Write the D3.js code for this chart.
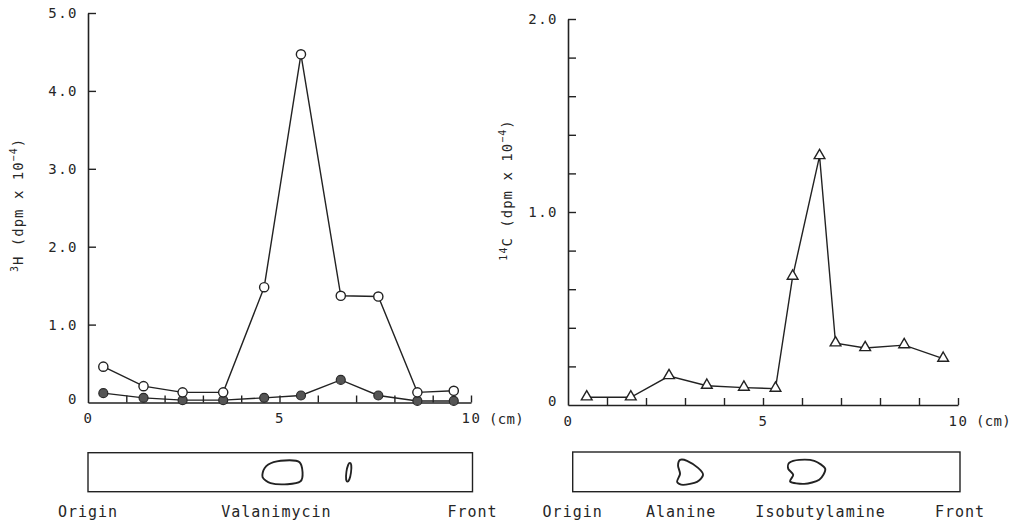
<!DOCTYPE html>
<html>
<head>
<meta charset="utf-8">
<script src="https://cdn.jsdelivr.net/npm/d3@7"></script>
<style>
  html, body { margin: 0; padding: 0; background: #fff; }
  svg { display: block; }
  text { font-family: "DejaVu Sans Mono", monospace; fill: #262626; }
</style>
</head>
<body>
<svg id="chart" width="1016" height="522"></svg>
<script>
// ---------- DATA ----------
// Left panel: 3H radioactivity vs distance (cm)
const leftX      = [0.4, 1.45, 2.47, 3.53, 4.6, 5.56, 6.6, 7.58, 8.6, 9.55];
const leftOpen   = [0.46, 0.21, 0.13, 0.13, 1.48, 4.47, 1.37, 1.36, 0.13, 0.15];
const leftFilled = [0.12, 0.06, 0.03, 0.03, 0.06, 0.09, 0.29, 0.09, 0.02, 0.02];
const leftYTicks = [0, 1, 2, 3, 4, 5];
const leftYLabels = ["0", "1.0", "2.0", "3.0", "4.0", "5.0"];

// Right panel: 14C radioactivity vs distance (cm)
const rightX   = [0.48, 1.61, 2.59, 3.56, 4.51, 5.32, 5.76, 6.45, 6.86, 7.62, 8.62, 9.62];
const rightTri = [0.04, 0.04, 0.15, 0.10, 0.09, 0.085, 0.665, 1.29, 0.32, 0.295, 0.31, 0.24];
const rightYTicks = [0, 0.2, 0.4, 0.6, 0.8, 1.0, 1.2, 1.4, 1.6, 1.8, 2.0];
const rightYLabels = { "0": "0", "1": "1.0", "2": "2.0" };

const xTicks = [0,1,2,3,4,5,6,7,8,9,10];
const xLabels = { "0": "0", "5": "5", "10": "10" };

// Chromatogram strips: spot positions in cm
const leftSpots  = [{name: "blob", cm: 5.06}, {name: "streak", cm: 6.78}];
const rightSpots = [{name: "dee", cm: 3.03}, {name: "kidney", cm: 6.03}];
const leftStripLabels  = [{t: "Origin", cm: 0}, {t: "Valanimycin", cm: 4.9}, {t: "Front", cm: 10}];
const rightStripLabels = [{t: "Origin", cm: 0}, {t: "Alanine", cm: 2.8}, {t: "Isobutylamine", cm: 6.4}, {t: "Front", cm: 10}];

// ---------- DRAWING ----------
const svg = d3.select("#chart");
const ink = "#222";

function panel(opts) {
  const g = svg.append("g");
  const x = d3.scaleLinear().domain([0, 10]).range([opts.x0, opts.x1]);
  const y = d3.scaleLinear().domain([0, opts.yMax]).range([opts.y0, opts.y1]);

  const xa = g.append("g").attr("transform", `translate(0,${opts.y0})`)
    .call(d3.axisBottom(x).tickValues(xTicks).tickSize(-7).tickSizeOuter(0).tickPadding(8)
      .tickFormat(d => xLabels[d] !== undefined ? xLabels[d] : ""));
  const ya = g.append("g").attr("transform", `translate(${opts.x0},0)`)
    .call(d3.axisLeft(y).tickValues(opts.yTicks).tickSize(-8).tickSizeOuter(0).tickPadding(10)
      .tickFormat(opts.yFmt));
  [xa, ya].forEach(a => {
    a.selectAll("path.domain").attr("stroke", ink).attr("stroke-width", 1.6);
    a.selectAll(".tick line").attr("stroke", ink).attr("stroke-width", 1.4);
    a.selectAll(".tick text").attr("fill", "#262626").style("font-size", "14px")
      .style("font-family", "'DejaVu Sans Mono', monospace").style("letter-spacing", "1.5px");
  });
  xa.selectAll(".tick text").attr("dy", "0.9em");
  ya.selectAll(".tick").filter(d => d === 0).select("text").attr("dy", "0.05em");
  xa.selectAll(".tick").filter(d => d === 0).select("line").remove();
  ya.selectAll(".tick").filter(d => d === 0).select("line").remove();

  g.append("text").attr("x", x(10) + 18).attr("y", opts.y0 + 21)
    .style("font-size", "14px").style("letter-spacing", "0.3px").text("(cm)");

  return {g, x, y};
}

// ---- Left panel ----
const L = panel({x0: 88, x1: 471, y0: 402.5, y1: 13, yMax: 5, yTicks: leftYTicks,
  yFmt: d => leftYLabels[leftYTicks.indexOf(d)]});

const line = (xs, ys, sx, sy) => d3.line().x((d, i) => sx(xs[i])).y(d => sy(d))(ys);

L.g.append("path").attr("d", line(leftX, leftFilled, L.x, L.y))
  .attr("fill", "none").attr("stroke", ink).attr("stroke-width", 1.4);
L.g.append("path").attr("d", line(leftX, leftOpen, L.x, L.y))
  .attr("fill", "none").attr("stroke", ink).attr("stroke-width", 1.4);
L.g.selectAll("circle.f").data(leftFilled).join("circle").attr("class", "f")
  .attr("cx", (d, i) => L.x(leftX[i])).attr("cy", d => L.y(d)).attr("r", 4.5)
  .attr("fill", "#555").attr("stroke", "#2a2a2a").attr("stroke-width", 1.2);
L.g.selectAll("circle.o").data(leftOpen).join("circle").attr("class", "o")
  .attr("cx", (d, i) => L.x(leftX[i])).attr("cy", d => L.y(d)).attr("r", 4.6)
  .attr("fill", "#fff").attr("stroke", ink).attr("stroke-width", 1.4);

const lt = svg.append("text").attr("transform", "translate(23,205) rotate(-90)")
  .attr("text-anchor", "middle").style("font-size", "14px").style("letter-spacing", "1px");
lt.append("tspan").attr("dy", "-5").style("font-size", "10px").text("3");
lt.append("tspan").attr("dy", "5").text("H  (dpm x 10");
lt.append("tspan").attr("dy", "-6").style("font-size", "10px").text("−4");
lt.append("tspan").attr("dy", "6").text(")");

// ---- Right panel ----
const R = panel({x0: 568, x1: 958, y0: 405, y1: 19, yMax: 2, yTicks: rightYTicks,
  yFmt: d => { const k = String(Math.round(d * 10) / 10); return rightYLabels[k] !== undefined ? rightYLabels[k] : ""; }});

R.g.append("path").attr("d", line(rightX, rightTri, R.x, R.y))
  .attr("fill", "none").attr("stroke", ink).attr("stroke-width", 1.4);
const tri = d3.symbol().type(d3.symbolTriangle).size(50);
R.g.selectAll("path.t").data(rightTri).join("path").attr("class", "t")
  .attr("d", tri)
  .attr("transform", (d, i) => `translate(${R.x(rightX[i])},${R.y(d) - 0.5})`)
  .attr("fill", "#fff").attr("stroke", ink).attr("stroke-width", 1.4);

const rt = svg.append("text").attr("transform", "translate(512,190) rotate(-90)")
  .attr("text-anchor", "middle").style("font-size", "14px").style("letter-spacing", "1px");
rt.append("tspan").attr("dy", "-5").style("font-size", "10px").text("14");
rt.append("tspan").attr("dy", "5").text("C  (dpm x 10");
rt.append("tspan").attr("dy", "-6").style("font-size", "10px").text("−4");
rt.append("tspan").attr("dy", "6").text(")");

// ---------- Chromatogram strips ----------
const shapes = {
  blob:   [[-20,5],[-18,-4],[-9,-10],[7,-12],[17,-10],[20,0],[18,9],[5,12],[-12,11]],
  dee:    [[-10,-12],[-3,-11],[8,-4],[13,3],[7,10],[-7,13],[-13,10],[-10,2],[-12,-6]],
  kidney: [[-17,-9],[-7,-12],[8,-11],[19,-3],[13,8],[-2,12],[-16,10],[-13,3],[-18,-3]]
};
const blobLine = d3.line().curve(d3.curveCardinalClosed.tension(0.2));

function strip(sx, y0, y1, spots, labels) {
  const g = svg.append("g");
  g.append("rect").attr("x", sx(0)).attr("y", y0).attr("width", sx(10) - sx(0)).attr("height", y1 - y0)
    .attr("fill", "none").attr("stroke", ink).attr("stroke-width", 1.4);
  const cy = (y0 + y1) / 2;
  spots.forEach(s => {
    if (s.name === "streak") {
      g.append("ellipse").attr("cx", sx(s.cm)).attr("cy", cy).attr("rx", 2.3).attr("ry", 9.5)
        .attr("transform", `rotate(8,${sx(s.cm)},${cy})`)
        .attr("fill", "none").attr("stroke", ink).attr("stroke-width", 1.8);
    } else {
      const pts = shapes[s.name].map(p => [sx(s.cm) + p[0], cy + p[1]]);
      g.append("path").attr("d", blobLine(pts))
        .attr("fill", "none").attr("stroke", ink).attr("stroke-width", 1.9);
    }
  });
  labels.forEach(l => {
    g.append("text").attr("x", sx(l.cm)).attr("y", 517).attr("text-anchor", "middle")
      .style("font-size", "15px").style("letter-spacing", "1px").text(l.t);
  });
}
const sL = d3.scaleLinear().domain([0, 10]).range([88, 472.5]);
const sR = d3.scaleLinear().domain([0, 10]).range([572.7, 960]);
strip(sL, 452.7, 491.7, leftSpots, leftStripLabels);
strip(sR, 452, 491.7, rightSpots, rightStripLabels);
</script>
</body>
</html>
